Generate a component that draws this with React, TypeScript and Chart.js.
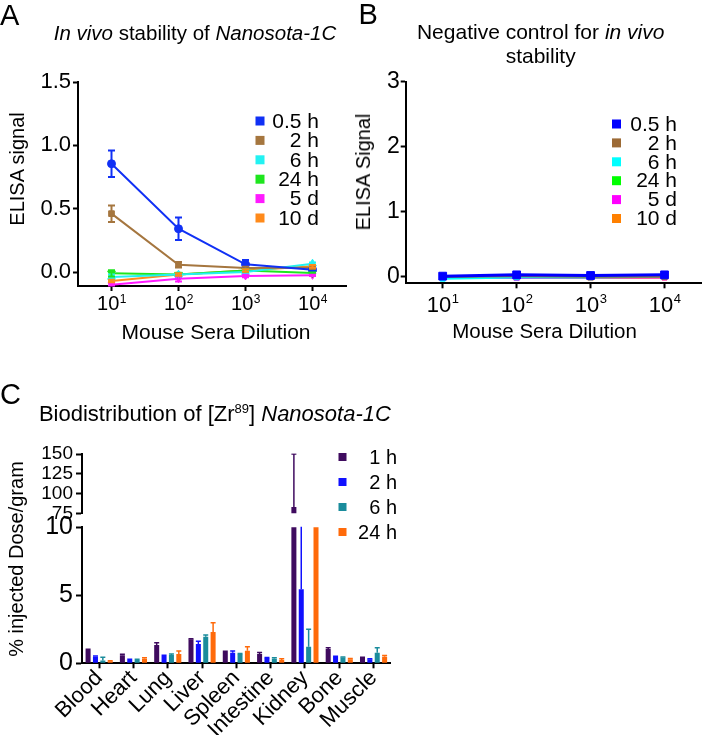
import React, { useEffect, useRef } from 'react';
import { Chart, registerables } from 'chart.js';

Chart.register(...registerables);

const FONT = '"Liberation Sans", Arial, Helvetica, sans-serif';
Chart.defaults.font.family = FONT;
Chart.defaults.color = '#000';

// ---------- Panel A / B data ----------
const dilutions = ['10^1', '10^2', '10^3', '10^4'];
const timeLabels = ['0.5 h', '2 h', '6 h', '24 h', '5 d', '10 d'];

const a05h = [0.855, 0.342, 0.061, 0.019];
const a05hErr = [0.105, 0.088, 0.035, 0.01];
const a2h = [0.461, 0.058, 0.032, 0.035];
const a2hErr = [0.065, 0.022, 0.01, 0.01];
const a6h = [-0.039, -0.02, 0.0, 0.066];
const a6hErr = [0.02, 0.01, 0.01, 0.01];
const a24h = [-0.01, -0.02, 0.013, -0.008];
const a24hErr = [0.025, 0.01, 0.01, 0.005];
const a5d = [-0.1, -0.052, -0.031, -0.026];
const a5dErr = [0.01, 0.022, 0.01, 0.005];
const a10d = [-0.071, -0.02, 0.013, 0.045];
const a10dErr = [0.01, 0.01, 0.01, 0.01];
const aTicks = [0, 0.5, 1.0, 1.5];

const b05h = [0.01, 0.03, 0.02, 0.03];
const b2h = [0.0, 0.01, 0.0, 0.0];
const b6h = [-0.03, -0.01, -0.01, 0.0];
const b24h = [-0.01, 0.0, 0.0, 0.01];
const b5d = [-0.02, -0.02, -0.01, -0.01];
const b10d = [-0.01, -0.01, -0.02, -0.01];
const bTicks = [0, 1, 2, 3];

// ---------- Panel C data ----------
const organs = ['Blood', 'Heart', 'Lung', 'Liver', 'Spleen', 'Intestine', 'Kidney', 'Bone', 'Muscle'];
const bioLabels = ['1 h', '2 h', '6 h', '24 h'];
const c1h = [0.98, 0.59, 1.35, 1.76, 0.83, 0.68, 83, 1.05, 0.39];
const c1hErr = [0.05, 0.08, 0.17, 0.05, 0.05, 0.12, 67, 0.1, 0.05];
const c2h = [0.49, 0.25, 0.54, 1.42, 0.78, 0.39, 5.44, 0.46, 0.29];
const c2hErr = [0.05, 0.04, 0.05, 0.2, 0.12, 0.04, 12, 0.05, 0.05];
const c6h = [0.2, 0.25, 0.61, 1.96, 0.68, 0.34, 1.22, 0.42, 0.78];
const c6hErr = [0.25, 0.04, 0.08, 0.12, 0.04, 0.06, 1.28, 0.05, 0.37];
const c24h = [0.15, 0.34, 0.69, 2.3, 0.93, 0.25, 25, 0.29, 0.49];
const c24hErr = [0.04, 0.07, 0.22, 0.69, 0.29, 0.08, 5, 0.07, 0.09];
const cLowTicks = [0, 5, 10];
const cHighTicks = [75, 100, 125, 150];

const W = 708;
const H = 735;

// ---------- plugins ----------
const errorBarPlugin = {
  id: 'errorBars',
  afterDatasetsDraw(chart: any) {
    const ctx = chart.ctx;
    const area = chart.chartArea;
    ctx.save();
    ctx.beginPath();
    ctx.rect(area.left - 5, area.top - 0.5, area.right - area.left + 10, area.bottom - area.top + 1);
    ctx.clip();
    chart.data.datasets.forEach((ds: any, i: number) => {
      if (!ds.errors) return;
      const meta = chart.getDatasetMeta(i);
      const ys = chart.scales[meta.yAxisID];
      meta.data.forEach((el: any, j: number) => {
        const e = ds.errors[j];
        if (!e) return;
        const v = ds.data[j];
        const x = el.x;
        const yTop = ys.getPixelForValue(v + e);
        const yBot = ds.errorUpOnly ? ys.getPixelForValue(v) : ys.getPixelForValue(v - e);
        const cap = ds.errorCap ?? 3.5;
        ctx.strokeStyle = ds.borderColor || ds.backgroundColor;
        ctx.lineWidth = ds.errorWidth ?? 2;
        ctx.beginPath();
        ctx.moveTo(x, yTop);
        ctx.lineTo(x, yBot);
        ctx.moveTo(x - cap, yTop);
        ctx.lineTo(x + cap, yTop);
        if (!ds.errorUpOnly) {
          ctx.moveTo(x - cap, yBot);
          ctx.lineTo(x + cap, yBot);
        }
        ctx.stroke();
      });
    });
    ctx.restore();
  },
};

const legendPlugin = {
  id: 'panelLegend',
  afterDraw(chart: any, _args: any, opts: any) {
    if (!opts || !opts.fontSize) return;
    const ctx = chart.ctx;
    ctx.save();
    ctx.font = `${opts.fontSize}px ${FONT}`;
    ctx.textAlign = 'right';
    ctx.textBaseline = 'middle';
    chart.data.datasets.forEach((ds: any, i: number) => {
      const y = opts.y0 + i * opts.dy;
      ctx.fillStyle = ds.backgroundColor;
      ctx.fillRect(opts.boxX - opts.box / 2, y - opts.box / 2, opts.box, opts.box);
      ctx.fillStyle = '#000';
      ctx.fillText(ds.label, opts.textRight, y + 1);
    });
    ctx.restore();
  },
};

const supTicksPlugin = {
  id: 'supTicks',
  afterDraw(chart: any, _args: any, opts: any) {
    if (!opts || !opts.size) return;
    const xs = chart.scales.x;
    const ctx = chart.ctx;
    ctx.save();
    ctx.fillStyle = '#000';
    ctx.textBaseline = 'alphabetic';
    ctx.textAlign = 'left';
    chart.data.labels.forEach((lab: string, i: number) => {
      const parts = String(lab).split('^');
      const b = parts[0];
      const e = parts[1] || '';
      const x = xs.getPixelForTick(i);
      ctx.font = `${opts.size}px ${FONT}`;
      const wb = ctx.measureText(b).width;
      ctx.font = `${opts.supSize}px ${FONT}`;
      const we = ctx.measureText(e).width;
      const x0 = x - (wb + we) / 2;
      const y = xs.top + opts.offset;
      ctx.font = `${opts.size}px ${FONT}`;
      ctx.fillText(b, x0, y);
      ctx.font = `${opts.supSize}px ${FONT}`;
      ctx.fillText(e, x0 + wb + 0.5, y - opts.raise);
    });
    ctx.restore();
  },
};

Chart.register(errorBarPlugin, legendPlugin, supTicksPlugin);

const axisGrid = (len: number) => ({
  drawOnChartArea: false,
  drawTicks: true,
  tickLength: len,
  tickWidth: 2,
  tickColor: '#000',
});
const axisBorder = { display: true, color: '#000', width: 2 };

function lineDs(label: string, data: number[], color: string, style: string, radius: number, width: number, errors?: number[], rotation = 0) {
  return {
    label,
    data,
    errors,
    borderColor: color,
    backgroundColor: color,
    pointBackgroundColor: color,
    pointBorderColor: color,
    pointStyle: style,
    pointRadius: radius,
    pointRotation: rotation,
    pointBorderWidth: 1,
    borderWidth: width,
    tension: 0,
    errorCap: 3.5,
    errorWidth: 2,
  };
}

function barDs(label: string, data: number[], color: string, errors: number[]) {
  return {
    label,
    data,
    errors,
    errorUpOnly: true,
    errorCap: 2.5,
    errorWidth: 1.5,
    backgroundColor: color,
    borderColor: color,
    borderWidth: 0,
    categoryPercentage: 0.86,
    barPercentage: 0.68,
    clip: 0,
  };
}

const T = ({ style, children }: { style: React.CSSProperties; children: React.ReactNode }) => (
  <div style={{ position: 'absolute', whiteSpace: 'nowrap', lineHeight: 1, color: '#000', ...style }}>{children}</div>
);

export default function App() {
  const refA = useRef<HTMLCanvasElement>(null);
  const refB = useRef<HTMLCanvasElement>(null);
  const refCt = useRef<HTMLCanvasElement>(null);
  const refCb = useRef<HTMLCanvasElement>(null);

  useEffect(() => {
    const charts: Chart[] = [];
    const base: any = {
      responsive: false,
      animation: false,
      devicePixelRatio: 1,
      events: [],
    };

    // Panel A
    const aColors = ['#1030f5', '#a5763f', '#22f2f2', '#1ee61e', '#ff1aff', '#ff8a1a'];
    charts.push(
      new Chart(refA.current!, {
        type: 'line',
        data: {
          labels: dilutions,
          datasets: [
            lineDs(timeLabels[0], a05h, aColors[0], 'circle', 4, 2, a05hErr),
            lineDs(timeLabels[1], a2h, aColors[1], 'rect', 4, 2, a2hErr),
            lineDs(timeLabels[2], a6h, aColors[2], 'triangle', 4.5, 2, a6hErr),
            lineDs(timeLabels[3], a24h, aColors[3], 'triangle', 4.5, 2, a24hErr, 180),
            lineDs(timeLabels[4], a5d, aColors[4], 'triangle', 4, 2, a5dErr, 180),
            lineDs(timeLabels[5], a10d, aColors[5], 'circle', 3, 2, a10dErr),
          ] as any,
        },
        options: {
          ...base,
          layout: { padding: { left: 0, right: W - 346, top: 82, bottom: H - 286 - 30 } },
          plugins: {
            legend: { display: false },
            tooltip: { enabled: false },
            panelLegend: { fontSize: 21, box: 9, boxX: 260, textRight: 319, y0: 121, dy: 19.4 },
            supTicks: { size: 20, supSize: 12, offset: 24, raise: 7.5 },
          } as any,
          scales: {
            x: {
              type: 'category',
              offset: true,
              grid: axisGrid(5),
              border: axisBorder,
              ticks: { display: false },
              afterFit: (s: any) => { s.height = 30; },
            },
            y: {
              min: -0.11,
              max: 1.5,
              afterBuildTicks: (s: any) => { s.ticks = aTicks.map((v) => ({ value: v })); },
              ticks: { font: { size: 22 }, color: '#000', padding: 2, autoSkip: false, callback: (v: any) => Number(v).toFixed(1) },
              grid: axisGrid(5),
              border: axisBorder,
              afterFit: (s: any) => { s.width = 78; },
            },
          } as any,
        },
      })
    );

    // Panel B
    const bColors = ['#0000ff', '#9c6a35', '#00ffff', '#00ff00', '#ff00ff', '#ff8000'];
    charts.push(
      new Chart(refB.current!, {
        type: 'line',
        data: {
          labels: dilutions,
          datasets: [
            lineDs(timeLabels[0], b05h, bColors[0], 'rect', 5.5, 3),
            lineDs(timeLabels[1], b2h, bColors[1], 'rect', 3.5, 2),
            lineDs(timeLabels[2], b6h, bColors[2], 'rect', 3.5, 2),
            lineDs(timeLabels[3], b24h, bColors[3], 'rect', 3.5, 2),
            lineDs(timeLabels[4], b5d, bColors[4], 'rect', 3.5, 2),
            lineDs(timeLabels[5], b10d, bColors[5], 'rect', 3.5, 2),
          ] as any,
        },
        options: {
          ...base,
          layout: { padding: { left: 405.7 - 50, right: W - 707, top: 81.7, bottom: H - 283.3 - 30 } },
          plugins: {
            legend: { display: false },
            tooltip: { enabled: false },
            panelLegend: { fontSize: 21, box: 9, boxX: 616.5, textRight: 677, y0: 124, dy: 18.9 },
            supTicks: { size: 22, supSize: 13, offset: 28.4, raise: 8.4 },
          } as any,
          scales: {
            x: {
              type: 'category',
              offset: true,
              grid: axisGrid(5),
              border: axisBorder,
              ticks: { display: false },
              afterFit: (s: any) => { s.height = 30; },
            },
            y: {
              min: -0.1,
              max: 3,
              afterBuildTicks: (s: any) => { s.ticks = bTicks.map((v) => ({ value: v })); },
              ticks: { font: { size: 23 }, color: '#000', padding: 1, autoSkip: false, callback: (v: any) => String(v) },
              grid: axisGrid(5),
              border: axisBorder,
              afterFit: (s: any) => { s.width = 50; },
            },
          } as any,
        },
      })
    );

    // Panel C
    const cColors = ['#3f0b5f', '#1010ff', '#1a8c9c', '#ff6a0a'];
    const cDatasets = () => [
      barDs(bioLabels[0], c1h, cColors[0], c1hErr),
      barDs(bioLabels[1], c2h, cColors[1], c2hErr),
      barDs(bioLabels[2], c6h, cColors[2], c6hErr),
      barDs(bioLabels[3], c24h, cColors[3], c24hErr),
    ];
    const cLeft = 82;
    const cRight = 390.7;

    charts.push(
      new Chart(refCt.current!, {
        type: 'bar',
        data: { labels: organs, datasets: cDatasets() as any },
        options: {
          ...base,
          layout: { padding: { left: cLeft - 50, right: W - cRight, top: 454, bottom: H - 513.3 } },
          plugins: {
            legend: { display: false },
            tooltip: { enabled: false },
            panelLegend: { fontSize: 20, box: 8, boxX: 342.5, textRight: 397, y0: 457, dy: 25 },
          } as any,
          scales: {
            x: { type: 'category', display: false, offset: true, grid: { offset: false } },
            y: {
              min: 75,
              max: 150,
              afterBuildTicks: (s: any) => { s.ticks = cHighTicks.map((v) => ({ value: v })); },
              ticks: { font: { size: 19, lineHeight: 1 }, color: '#000', padding: 3, autoSkip: false, callback: (v: any) => String(v) },
              grid: axisGrid(6),
              border: axisBorder,
              afterFit: (s: any) => { s.width = 50; },
            },
          } as any,
        },
      })
    );

    charts.push(
      new Chart(refCb.current!, {
        type: 'bar',
        data: { labels: organs, datasets: cDatasets() as any },
        options: {
          ...base,
          layout: { padding: { left: cLeft - 50, right: W - cRight, top: 527.3, bottom: 0 } },
          plugins: { legend: { display: false }, tooltip: { enabled: false } },
          scales: {
            x: {
              type: 'category',
              offset: true,
              grid: { ...axisGrid(5), offset: false },
              border: axisBorder,
              ticks: { font: { size: 22 }, color: '#000', padding: -3, minRotation: 45, maxRotation: 45, autoSkip: false },
              afterFit: (s: any) => { s.height = H - 663.3; },
            },
            y: {
              min: 0,
              max: 10,
              afterBuildTicks: (s: any) => { s.ticks = cLowTicks.map((v) => ({ value: v })); },
              ticks: { font: { size: 25 }, color: '#000', padding: 3, autoSkip: false, callback: (v: any) => String(v) },
              grid: axisGrid(6),
              border: axisBorder,
              afterFit: (s: any) => { s.width = 50; },
            },
          } as any,
        },
      })
    );

    return () => charts.forEach((c) => c.destroy());
  }, []);

  const canvasStyle: React.CSSProperties = { position: 'absolute', left: 0, top: 0, width: W, height: H };

  return (
    <div style={{ position: 'absolute', left: 0, top: 0, width: W, height: H, background: '#fff', overflow: 'hidden', fontFamily: FONT }}>
      <canvas ref={refA} width={W} height={H} style={canvasStyle} />
      <canvas ref={refB} width={W} height={H} style={canvasStyle} />
      <canvas ref={refCt} width={W} height={H} style={canvasStyle} />
      <canvas ref={refCb} width={W} height={H} style={canvasStyle} />

      <T style={{ left: 0, top: 0.5, fontSize: 29 }}>A</T>
      <T style={{ left: 358.5, top: -0.5, fontSize: 29 }}>B</T>
      <T style={{ left: 0, top: 380, fontSize: 29 }}>C</T>

      <T style={{ left: 195, top: 22.6, fontSize: 20.5, transform: 'translateX(-50%)' }}>
        <i>In vivo</i> stability of <i>Nanosota-1C</i>
      </T>
      <T style={{ left: 540.7, top: 20, fontSize: 21, lineHeight: '24px', textAlign: 'center', transform: 'translateX(-50%)' }}>
        Negative control for <i>in vivo</i>
        <br />
        stability
      </T>
      <T style={{ left: 214.9, top: 403, fontSize: 22, transform: 'translateX(-50%)' }}>
        Biodistribution of [Zr<span style={{ fontSize: 13, position: 'relative', top: -8 }}>89</span>] <i>Nanosota-1C</i>
      </T>

      <T style={{ left: 16.5, top: 169, fontSize: 20, transform: 'translate(-50%, -50%) rotate(-90deg)' }}>ELISA signal</T>
      <T style={{ left: 363, top: 171.7, fontSize: 20, transform: 'translate(-50%, -50%) rotate(-90deg)' }}>ELISA Signal</T>
      <T style={{ left: 16, top: 558.5, fontSize: 20, transform: 'translate(-50%, -50%) rotate(-90deg)' }}>% injected Dose/gram</T>

      <T style={{ left: 216, top: 330.5, fontSize: 21, transform: 'translate(-50%, -50%)' }}>Mouse Sera Dilution</T>
      <T style={{ left: 544.5, top: 331, fontSize: 20.5, transform: 'translate(-50%, -50%)' }}>Mouse Sera Dilution</T>
    </div>
  );
}
